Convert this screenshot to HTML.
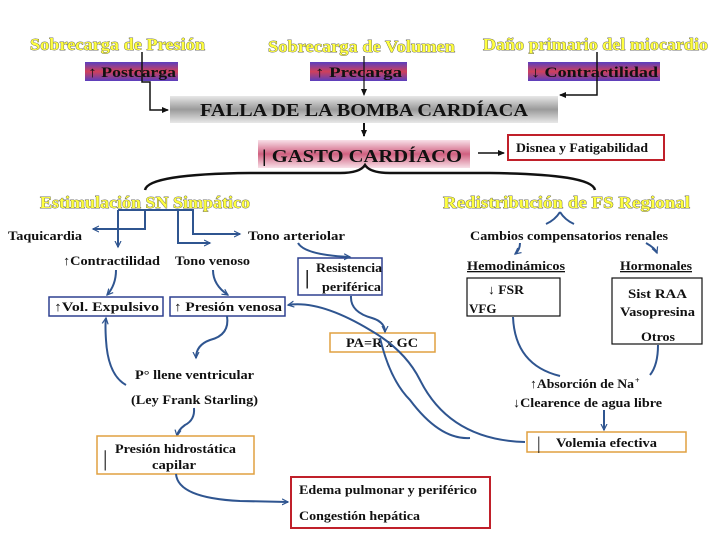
<!DOCTYPE html>
<html><head><meta charset="utf-8"><style>
body{margin:0;background:#fff}
svg{display:block}
text{font-family:"Liberation Serif",serif;font-weight:bold}
.y{fill:#ffff40;stroke:#444;stroke-width:0.7;paint-order:stroke;font-size:17px}
.k{fill:#111;font-size:13px}
.b{fill:none;stroke:#2f5590;stroke-width:2}
</style></head><body>
<svg width="728" height="546" viewBox="0 0 728 546" xmlns="http://www.w3.org/2000/svg">
<defs>
<linearGradient id="pb" x1="0" y1="0" x2="0" y2="1"><stop offset="0" stop-color="#5a3fbf"/><stop offset="0.5" stop-color="#d0405a"/><stop offset="1" stop-color="#5a3fbf"/></linearGradient>
<linearGradient id="gr" x1="0" y1="0" x2="0" y2="1"><stop offset="0" stop-color="#e8e8e8"/><stop offset="0.5" stop-color="#9a9a9a"/><stop offset="1" stop-color="#e8e8e8"/></linearGradient>
<linearGradient id="pk" x1="0" y1="0" x2="0" y2="1"><stop offset="0" stop-color="#f8e0e8"/><stop offset="0.5" stop-color="#d06080"/><stop offset="1" stop-color="#f8e0e8"/></linearGradient>
<marker id="a" markerUnits="userSpaceOnUse" markerWidth="8" markerHeight="8" refX="6" refY="4" orient="auto"><path d="M0,1 L6,4 L0,7" fill="none" stroke="#2f5590" stroke-width="1.2"/></marker>
<marker id="ak" markerUnits="userSpaceOnUse" markerWidth="8" markerHeight="8" refX="6" refY="4" orient="auto"><path d="M0,1 L7,4 L0,7z" fill="#111"/></marker>
</defs>
<!-- top -->
<text class="y" x="30" y="50" textLength="175" lengthAdjust="spacingAndGlyphs">Sobrecarga de Presión</text>
<text class="y" x="268" y="52" textLength="187" lengthAdjust="spacingAndGlyphs">Sobrecarga de Volumen</text>
<text class="y" x="483" y="50" textLength="225" lengthAdjust="spacingAndGlyphs">Daño primario del miocardio</text>
<rect x="85" y="62" width="93" height="19" fill="url(#pb)"/>
<rect x="310" y="62" width="97" height="19" fill="url(#pb)"/>
<rect x="528" y="62" width="132" height="19" fill="url(#pb)"/>
<text x="88" y="77" style="font-size:15px;fill:#111" textLength="88" lengthAdjust="spacingAndGlyphs">↑ Postcarga</text>
<text x="315" y="77" style="font-size:15px;fill:#111" textLength="87" lengthAdjust="spacingAndGlyphs">↑ Precarga</text>
<text x="531" y="77" style="font-size:15px;fill:#111" textLength="127" lengthAdjust="spacingAndGlyphs">↓ Contractilidad</text>
<rect x="170" y="96" width="388" height="27" fill="url(#gr)"/>
<text x="200" y="116" style="font-size:18px;fill:#111" textLength="328" lengthAdjust="spacingAndGlyphs">FALLA DE LA BOMBA CARDÍACA</text>
<path d="M142,52 V82 H150 V110 H168" fill="none" stroke="#111" stroke-width="1.5" marker-end="url(#ak)"/>
<path d="M364,56 V95" fill="none" stroke="#111" stroke-width="1.2" marker-end="url(#ak)"/>
<path d="M597,52 V95 H560" fill="none" stroke="#111" stroke-width="1.5" marker-end="url(#ak)"/>
<path d="M364,123 V136" fill="none" stroke="#111" stroke-width="2" marker-end="url(#ak)"/>
<rect x="258" y="140" width="212" height="28" fill="url(#pk)"/>
<text x="262" y="162" style="font-size:18px;fill:#111" textLength="200" lengthAdjust="spacingAndGlyphs">| GASTO CARDÍACO</text>
<path d="M478,153 H504" stroke="#111" stroke-width="1.5" marker-end="url(#ak)"/>
<rect x="508" y="135" width="156" height="25" fill="#fff" stroke="#c0202a" stroke-width="2"/>
<text x="516" y="152" class="k" textLength="132" lengthAdjust="spacingAndGlyphs">Disnea y Fatigabilidad</text>
<path d="M145,190 Q148,174 250,173 L340,173 Q360,173 365,165 Q370,173 390,173 L490,173 Q592,174 595,190" fill="none" stroke="#111" stroke-width="2.5"/>
<text class="y" x="40" y="208" textLength="210" lengthAdjust="spacingAndGlyphs">Estimulación SN Simpático</text>
<text class="y" x="443" y="208" textLength="247" lengthAdjust="spacingAndGlyphs">Redistribución de  FS  Regional</text>
<!-- left tree -->
<path class="b" d="M118,210 H193 V234 H240" marker-end="url(#a)"/>
<path class="b" d="M118,210 V247" marker-end="url(#a)"/>
<path class="b" d="M145,210 V229 H93" marker-end="url(#a)"/>
<path class="b" d="M145,210 H178 V243 H210" marker-end="url(#a)"/>
<text class="k" x="8" y="240" textLength="74" lengthAdjust="spacingAndGlyphs">Taquicardia</text>
<text class="k" x="248" y="240" textLength="97" lengthAdjust="spacingAndGlyphs">Tono arteriolar</text>
<text class="k" x="63" y="265" textLength="97" lengthAdjust="spacingAndGlyphs">↑Contractilidad</text>
<text class="k" x="175" y="265" textLength="75" lengthAdjust="spacingAndGlyphs">Tono venoso</text>
<rect x="298" y="258" width="84" height="37" fill="#fff" stroke="#2f4090" stroke-width="1.5"/>
<text x="305" y="284" style="font-size:20px;fill:#111">|</text>
<text class="k" x="316" y="272" textLength="66" lengthAdjust="spacingAndGlyphs">Resistencia</text>
<text class="k" x="322" y="291" textLength="59" lengthAdjust="spacingAndGlyphs">periférica</text>
<rect x="49" y="297" width="114" height="19" fill="#fff" stroke="#2f4090" stroke-width="1.5"/>
<text class="k" x="54" y="311" textLength="105" lengthAdjust="spacingAndGlyphs">↑Vol. Expulsivo</text>
<rect x="170" y="297" width="115" height="19" fill="#fff" stroke="#2f4090" stroke-width="1.5"/>
<text class="k" x="174" y="311" textLength="108" lengthAdjust="spacingAndGlyphs">↑ Presión venosa</text>
<rect x="330" y="333" width="105" height="19" fill="#fff" stroke="#e0a040" stroke-width="1.5"/>
<text class="k" x="346" y="347" textLength="72" lengthAdjust="spacingAndGlyphs">PA=R x GC</text>
<path class="b" d="M298,243 Q305,255 350,257" marker-end="url(#a)"/>
<path class="b" d="M116,270 Q116,285 107,295" marker-end="url(#a)"/>
<path class="b" d="M213,270 Q213,285 228,295" marker-end="url(#a)"/>
<path class="b" d="M351,296 Q350,312 372,318 Q385,322 385,332" marker-end="url(#a)"/>
<path class="b" d="M227,316 Q230,335 210,340 Q196,345 196,358" marker-end="url(#a)"/>
<path class="b" d="M126,385 Q108,375 106,340 Q105,325 106,318" marker-end="url(#a)"/>
<text class="k" x="135" y="379" textLength="119" lengthAdjust="spacingAndGlyphs">P°  llene ventricular</text>
<text class="k" x="131" y="404" textLength="127" lengthAdjust="spacingAndGlyphs">(Ley Frank Starling)</text>
<path class="b" d="M194,408 Q195,420 185,425 Q178,430 177,436" marker-end="url(#a)"/>
<rect x="97" y="436" width="157" height="38" fill="#fff" stroke="#e0a040" stroke-width="1.5"/>
<text x="103" y="466" style="font-size:22px;fill:#111;font-weight:normal">|</text>
<text class="k" x="115" y="453" textLength="121" lengthAdjust="spacingAndGlyphs">Presión hidrostática</text>
<text class="k" x="152" y="469" textLength="44" lengthAdjust="spacingAndGlyphs">capilar</text>
<path class="b" d="M176,474 Q178,498 240,501 L288,502" marker-end="url(#a)"/>
<rect x="291" y="477" width="199" height="51" fill="#fff" stroke="#c0202a" stroke-width="2"/>
<text class="k" x="299" y="494" textLength="178" lengthAdjust="spacingAndGlyphs">Edema pulmonar y periférico</text>
<text class="k" x="299" y="520" textLength="121" lengthAdjust="spacingAndGlyphs">Congestión hepática</text>
<path class="b" d="M525,442 Q450,440 420,380 Q405,350 370,330 Q320,300 288,305" marker-end="url(#a)"/>
<path class="b" d="M380,338 Q390,380 410,400 Q440,440 470,438" fill="none"/>
<!-- right -->
<path class="b" d="M560,212 Q565,220 574,224" />
<path class="b" d="M560,212 Q555,220 546,224" />
<text class="k" x="470" y="240" textLength="198" lengthAdjust="spacingAndGlyphs">Cambios compensatorios renales</text>
<path class="b" d="M520,243 Q520,250 515,254" marker-end="url(#a)"/>
<path class="b" d="M646,243 Q655,248 657,253" marker-end="url(#a)"/>
<text class="k" x="467" y="270" text-decoration="underline" textLength="98" lengthAdjust="spacingAndGlyphs">Hemodinámicos</text>
<text class="k" x="620" y="270" text-decoration="underline" textLength="72" lengthAdjust="spacingAndGlyphs">Hormonales</text>
<rect x="467" y="278" width="93" height="38" fill="#fff" stroke="#111" stroke-width="1.2"/>
<text class="k" x="488" y="294" textLength="36" lengthAdjust="spacingAndGlyphs">↓ FSR</text>
<text class="k" x="469" y="313">VFG</text>
<rect x="612" y="278" width="90" height="66" fill="#fff" stroke="#111" stroke-width="1.2"/>
<text class="k" x="628" y="298" textLength="59" lengthAdjust="spacingAndGlyphs">Sist RAA</text>
<text class="k" x="620" y="316" textLength="75" lengthAdjust="spacingAndGlyphs">Vasopresina</text>
<text class="k" x="641" y="341" textLength="34" lengthAdjust="spacingAndGlyphs">Otros</text>
<path class="b" d="M513,317 Q515,365 560,376"/>
<path class="b" d="M658,345 Q658,365 650,375"/>
<text class="k" x="530" y="388" textLength="104" lengthAdjust="spacingAndGlyphs">↑Absorción de Na</text>
<text class="k" x="635" y="383" style="font-size:8px">+</text>
<text class="k" x="513" y="407" textLength="149" lengthAdjust="spacingAndGlyphs">↓Clearence de agua libre</text>
<path class="b" d="M604,410 V430" marker-end="url(#a)"/>
<rect x="527" y="432" width="159" height="20" fill="#fff" stroke="#e0a040" stroke-width="1.5"/>
<text x="537" y="449" style="font-size:18px;fill:#111;font-weight:normal">|</text>
<text class="k" x="556" y="447" textLength="101" lengthAdjust="spacingAndGlyphs">Volemia efectiva</text>
</svg>
</body></html>
